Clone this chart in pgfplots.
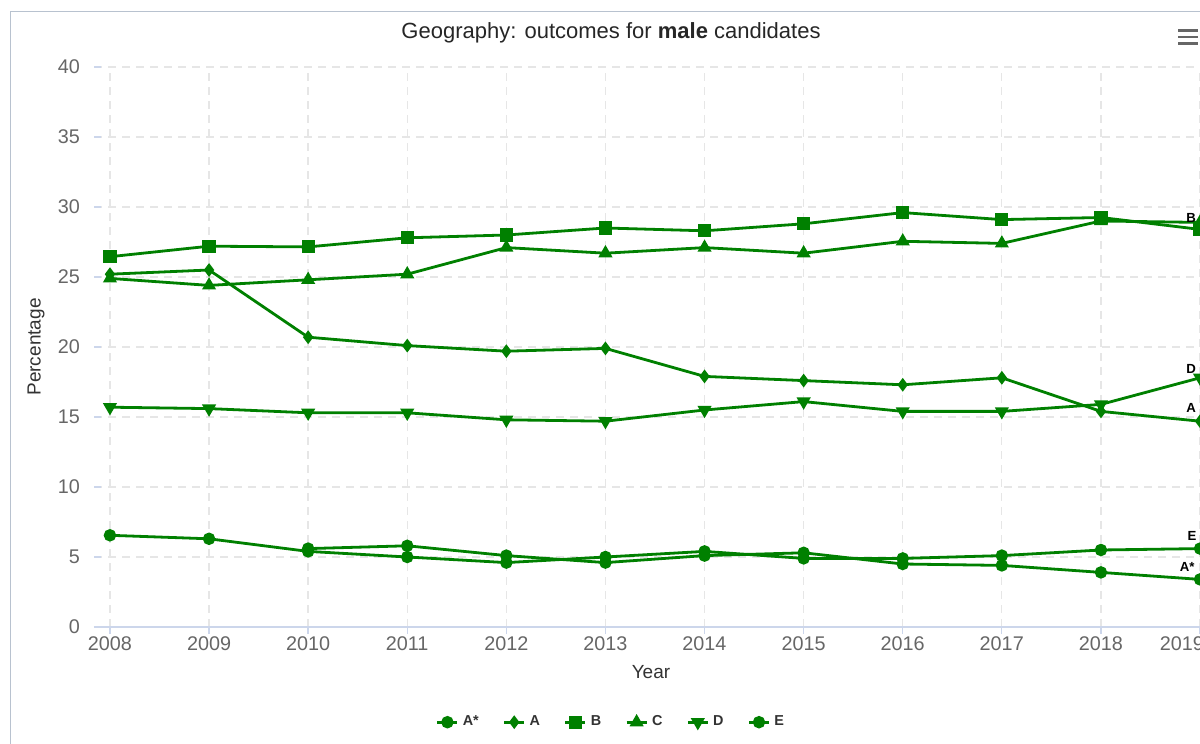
\documentclass[border=0pt]{standalone}
\usepackage{fontspec}
\setmainfont{Liberation Sans}
\usepackage{pgfplots}
\pgfplotsset{compat=1.18}
\definecolor{sgreen}{HTML}{008000}
\definecolor{gridgray}{HTML}{E6E6E6}
\definecolor{axisblue}{HTML}{CCD6EB}
\definecolor{tickgray}{HTML}{666666}
\definecolor{c333}{HTML}{333333}
\definecolor{framec}{HTML}{B8C2CF}
\begin{document}
\begin{tikzpicture}
\begin{axis}[
  at={(0pt,0pt)}, anchor=south west,
  scale only axis, width=561pt, height=280pt,
  xmin=2007.839, xmax=2019.161,
  ymin=0, ymax=40,
  xtick={2008,2009,...,2019},
  xticklabels={2008,2009,2010,2011,2012,2013,2014,2015,2016,2017,2018,\makebox[0pt]{\kern-18pt 2019}},
  ytick={0,5,...,40},
  /pgf/number format/assume math mode=true,
  xticklabel style={yshift=2pt},
  tick label style={font=\fontsize{9.9}{11}\selectfont, text=tickgray},
  axis x line*=bottom, axis y line*=left,
  x axis line style={draw=axisblue, line width=0.8pt},
  y axis line style={draw=none},
  tick align=outside,
  major tick length=3.5pt,
  xtick style={draw=axisblue, line width=0.7pt},
  ytick style={draw=axisblue, line width=0.7pt, xshift=3.5pt},
  grid=major,
  major grid style={dash pattern=on 4pt off 3pt, draw=gridgray, line width=0.7pt},
  xlabel={Year},
  xlabel style={at={(axis description cs:0.4964,-0.0804)}, anchor=center, font=\fontsize{9.5}{11}\selectfont, text=c333},
  ylabel={Percentage},
  ylabel style={at={(axis description cs:-0.0517,0.5)}, anchor=center, rotate=0, font=\fontsize{9.5}{11}\selectfont, text=c333},
  every axis plot/.append style={color=sgreen, line width=1.4pt},
  legend style={at={(axis description cs:0.4617,-0.17)}, anchor=center, draw=none, fill=none,
    legend columns=6, font=\bfseries\fontsize{7.2}{8}\selectfont, text=c333,
    /tikz/every even column/.append style={column sep=10pt}},
  legend image code/.code={\draw[mark repeat=2,mark phase=2] plot coordinates {(0pt,0pt) (5pt,0pt) (10pt,0pt)};},
]
% A*
\addplot[mark=*, mark size=2.4pt, mark options={solid}] coordinates {
(2010,5.6) (2011,5.8) (2012,5.1) (2013,4.6) (2014,5.1) (2015,5.3) (2016,4.5) (2017,4.4) (2018,3.9) (2019,3.4)};
\addlegendentry{A*}
% A
\addplot[mark=diamond*, mark size=2.3pt, mark options={solid}] coordinates {
(2008,25.2) (2009,25.5) (2010,20.7) (2011,20.1) (2012,19.7) (2013,19.9) (2014,17.9) (2015,17.6) (2016,17.3) (2017,17.8) (2018,15.4) (2019,14.7)};
\addlegendentry{A}
% B
\addplot[mark=square*, mark size=2.6pt, mark options={solid}] coordinates {
(2008,26.45) (2009,27.2) (2010,27.15) (2011,27.8) (2012,28.0) (2013,28.5) (2014,28.3) (2015,28.8) (2016,29.6) (2017,29.1) (2018,29.25) (2019,28.4)};
\addlegendentry{B}
% C
\addplot[mark=triangle*, mark size=2.7pt, mark options={solid}] coordinates {
(2008,24.9) (2009,24.4) (2010,24.8) (2011,25.2) (2012,27.1) (2013,26.7) (2014,27.1) (2015,26.7) (2016,27.55) (2017,27.4) (2018,29.0) (2019,28.9)};
\addlegendentry{C}
% D
\addplot[mark=triangle*, mark size=2.7pt, mark options={solid, rotate=180}] coordinates {
(2008,15.7) (2009,15.6) (2010,15.3) (2011,15.3) (2012,14.8) (2013,14.7) (2014,15.5) (2015,16.1) (2016,15.4) (2017,15.4) (2018,15.9) (2019,17.8)};
\addlegendentry{D}
% E
\addplot[mark=*, mark size=2.4pt, mark options={solid}] coordinates {
(2008,6.55) (2009,6.3) (2010,5.4) (2011,5.0) (2012,4.6) (2013,5.0) (2014,5.4) (2015,4.9) (2016,4.9) (2017,5.1) (2018,5.5) (2019,5.6)};
\addlegendentry{E}
% end-of-line data labels
\node[font=\bfseries\fontsize{6.6}{7}\selectfont, text=black] at (axis cs:2018.91,29.2) {B};
\node[font=\bfseries\fontsize{6.6}{7}\selectfont, text=black] at (axis cs:2018.91,18.43) {D};
\node[font=\bfseries\fontsize{6.6}{7}\selectfont, text=black] at (axis cs:2018.91,15.64) {A};
\node[font=\bfseries\fontsize{6.6}{7}\selectfont, text=black] at (axis cs:2018.92,6.5) {E};
\node[font=\bfseries\fontsize{6.6}{7}\selectfont, text=black] at (axis cs:2018.87,4.29) {A*};
\end{axis}
\pgfresetboundingbox
\useasboundingbox (-47pt,-58.5pt) rectangle (553pt,313.5pt);
% title
\node[font=\fontsize{11}{13}\selectfont, text=black!85] at (258.5pt,297pt) {Geography: outcomes for \textbf{male} candidates};
% chart frame
\draw[framec, line width=0.7pt] (-41.75pt,-60pt) -- (-41.75pt,307.65pt) -- (555pt,307.65pt);
% menu icon
\draw[tickgray, line width=1.4pt] (542pt,298.15pt) -- (552pt,298.15pt);
\draw[tickgray, line width=1.4pt] (542pt,295pt) -- (552pt,295pt);
\draw[tickgray, line width=1.4pt] (542pt,291.65pt) -- (552pt,291.65pt);
\end{tikzpicture}
\end{document}
